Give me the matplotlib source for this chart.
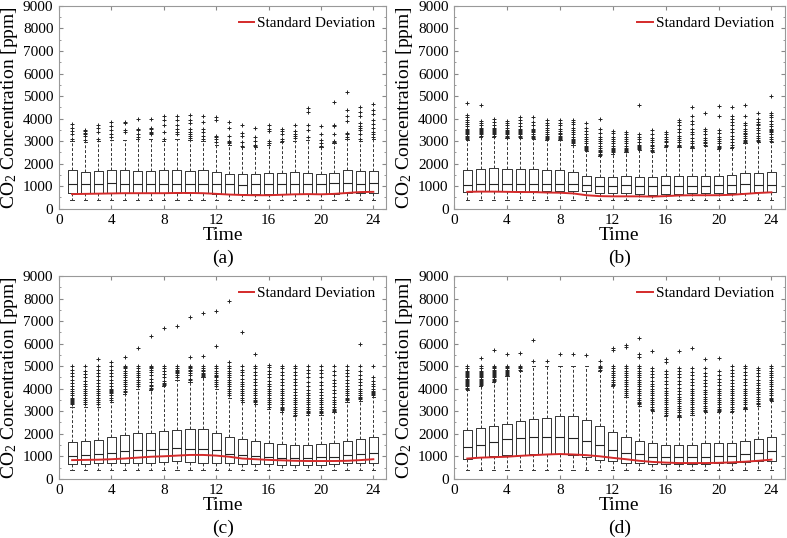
import numpy as np
import matplotlib.pyplot as plt

plt.rcParams['font.family'] = ['Liberation Serif', 'DejaVu Serif']
plt.rcParams['mathtext.default'] = 'regular'

hours = list(range(1, 25))
whis_lo = [400] * 24

# panel (a)
q1_a = [700, 700, 700, 700, 700, 690, 690, 700, 700, 690, 690, 660, 650, 640, 640, 650, 650, 660, 660, 650, 670, 700, 700, 720]
med_a = [1100, 1100, 1100, 1130, 1100, 1080, 1080, 1080, 1100, 1100, 1080, 1080, 1080, 1050, 1100, 1100, 1080, 1100, 1080, 1100, 1150, 1150, 1100, 1150]
q3_a = [1700, 1650, 1680, 1720, 1720, 1680, 1680, 1700, 1700, 1680, 1700, 1620, 1550, 1520, 1560, 1580, 1600, 1620, 1580, 1550, 1600, 1700, 1680, 1680]
hi_a = [3000, 2950, 3000, 3050, 3050, 3100, 3100, 3000, 3100, 3050, 3000, 2850, 2850, 2750, 2750, 2850, 2950, 3000, 3050, 2750, 2900, 3100, 3000, 3100]
sd_a = [650, 660, 670, 680, 690, 690, 690, 690, 700, 700, 690, 660, 630, 610, 600, 600, 620, 640, 650, 640, 660, 700, 740, 750]
fliers_a = [
    [3100, 3300, 3450, 3600, 3750],
    [3050, 3250, 3300, 3350, 3450, 3500],
    [3100, 3400, 3600, 3700],
    [3200, 3300, 3500, 3650, 3850],
    [3400, 3500, 3800, 3850],
    [3200, 3300, 3500, 3550, 4000],
    [3300, 3350, 3400, 3550, 3600, 4000],
    [3100, 3400, 3700, 3950, 4100],
    [3300, 3400, 3550, 3700, 3950, 4100],
    [3150, 3250, 3300, 3400, 3550, 3800, 3950, 4150],
    [3100, 3250, 3400, 3550, 3850, 4100],
    [2950, 3100, 3200, 3250, 3950, 4050],
    [2900, 2950, 3000, 3250, 3600, 3850],
    [2800, 2950, 3250, 3350, 3700],
    [2800, 2850, 3000, 3200, 3600],
    [2900, 3000, 3450, 3550, 3700],
    [3000, 3100, 3300, 3450, 3550],
    [3150, 3250, 3300, 3450, 3700],
    [3200, 3500, 3700, 4300, 4450],
    [2800, 2900, 3050, 3300, 3650],
    [2950, 3000, 3300, 3650, 3700, 4750],
    [3200, 3300, 3350, 3900, 4100, 4400, 5200],
    [3100, 3300, 3500, 3600, 3650, 3800, 4100, 4300, 4500],
    [3200, 3300, 3400, 3600, 3750, 3950, 4200, 4400, 4650],
]

# panel (b)
q1_b = [750, 780, 800, 800, 800, 800, 800, 800, 800, 780, 720, 700, 700, 650, 620, 650, 650, 680, 680, 700, 700, 720, 750, 750]
med_b = [1050, 1080, 1100, 1100, 1100, 1080, 1080, 1080, 1080, 1050, 1000, 1000, 1050, 1000, 1000, 1050, 1000, 1000, 1000, 1050, 1050, 1080, 1050, 1050]
q3_b = [1700, 1750, 1800, 1750, 1750, 1750, 1700, 1700, 1650, 1450, 1400, 1400, 1450, 1400, 1400, 1450, 1450, 1450, 1450, 1450, 1500, 1600, 1600, 1650]
hi_b = [3050, 3200, 3200, 3150, 3150, 3100, 3050, 3050, 2850, 2550, 2350, 2450, 2500, 2600, 2500, 2750, 2750, 2700, 2800, 2650, 2700, 2900, 2950, 2950]
sd_b = [750, 760, 760, 750, 740, 740, 720, 710, 680, 600, 560, 550, 550, 550, 540, 560, 590, 600, 600, 600, 620, 660, 700, 730]
fliers_b = [
    [3100, 3150, 3200, 3250, 3300, 3350, 3400, 3450, 3500, 3550, 3650, 3750, 3850, 3950, 4050, 4150, 4700],
    [3250, 3300, 3350, 3400, 3450, 3500, 3550, 3600, 3700, 3800, 3900, 4600],
    [3250, 3300, 3350, 3400, 3450, 3500, 3550, 3600, 3700, 3850, 4000],
    [3200, 3250, 3300, 3350, 3400, 3450, 3500, 3600, 3700, 3800, 3900],
    [3200, 3250, 3300, 3350, 3400, 3450, 3500, 3550, 3650, 3800, 3950, 4050],
    [3150, 3200, 3250, 3300, 3400, 3450, 3500, 3550, 3700, 3850, 4050],
    [3100, 3150, 3200, 3250, 3300, 3400, 3500, 3600, 3700, 3800, 3950],
    [3100, 3150, 3200, 3250, 3300, 3350, 3450, 3550, 3700, 3800, 3950],
    [2900, 2950, 3000, 3050, 3100, 3200, 3300, 3400, 3500, 3600, 3750, 3850, 3950],
    [2600, 2650, 2700, 2750, 2800, 2900, 3000, 3100, 3200, 3300, 3450, 3600, 3800],
    [2400, 2450, 2500, 2550, 2600, 2700, 2800, 2900, 3000, 3100, 3200, 3350, 3550, 4000],
    [2500, 2550, 2600, 2650, 2700, 2800, 2900, 3000, 3100, 3200, 3350, 3450],
    [2550, 2600, 2650, 2700, 2800, 2900, 3000, 3100, 3200, 3300, 3400],
    [2650, 2700, 2750, 2800, 2850, 2950, 3100, 3200, 3300, 4600],
    [2550, 2600, 2700, 2800, 2850, 2950, 3050, 3150, 3300, 3500],
    [2800, 2850, 2950, 3000, 3100, 3200, 3300, 3400],
    [2800, 2850, 2950, 3050, 3150, 3250, 3400, 3550, 3700, 3850, 3950],
    [2750, 2800, 2900, 3000, 3150, 3300, 3400, 3550, 3750, 3900, 4100, 4500],
    [2850, 2900, 2950, 3050, 3150, 3300, 3450, 3550, 4250],
    [2700, 2750, 2800, 2900, 3000, 3100, 3200, 3350, 3500, 4100, 4550],
    [2750, 2850, 2950, 3100, 3250, 3400, 3550, 3700, 3850, 4000, 4100, 4500],
    [2950, 3000, 3050, 3150, 3250, 3300, 3350, 3450, 3550, 3700, 3800, 4100, 4600],
    [3000, 3050, 3150, 3250, 3350, 3500, 3600, 3700, 3750, 3850, 4000, 4250],
    [3000, 3100, 3200, 3300, 3400, 3450, 3500, 3550, 3650, 3750, 3900, 4050, 4150, 4250, 5000],
]

# panel (c)
q1_c = [650, 650, 680, 700, 720, 720, 720, 750, 780, 750, 720, 680, 680, 650, 650, 650, 620, 620, 620, 620, 650, 680, 700, 720]
med_c = [1000, 1050, 1080, 1150, 1220, 1270, 1300, 1320, 1370, 1330, 1320, 1280, 1100, 1050, 1000, 950, 930, 920, 920, 950, 950, 1050, 1080, 1150]
q3_c = [1650, 1680, 1720, 1850, 1950, 2020, 2050, 2100, 2150, 2200, 2200, 2050, 1850, 1780, 1680, 1600, 1550, 1500, 1500, 1550, 1600, 1700, 1750, 1850]
hi_c = [3200, 3200, 3200, 3400, 3750, 4000, 3950, 4100, 4400, 4300, 4500, 4000, 3600, 3400, 3300, 3100, 2950, 2800, 2850, 2850, 2950, 3400, 3450, 3650]
sd_c = [830, 840, 850, 870, 900, 940, 980, 1000, 1030, 1060, 1060, 1030, 980, 900, 870, 840, 820, 800, 790, 790, 790, 800, 830, 870]
fliers_c = [
    [3300, 3350, 3400, 3450, 3500, 3550, 3600, 3700, 3800, 3900, 4000, 4100, 4250, 4400, 4550, 4700, 4850, 5000],
    [3300, 3400, 3500, 3600, 3700, 3800, 3900, 4000, 4100, 4200, 4350, 4500, 4650, 4800, 5000],
    [3300, 3400, 3500, 3600, 3700, 3800, 3900, 4000, 4100, 4250, 4400, 4550, 4700, 4850, 5000, 5300],
    [3500, 3600, 3700, 3800, 3850, 3900, 3950, 4000, 4100, 4250, 4400, 4550, 4700, 4850, 5000, 5200],
    [3850, 3900, 4000, 4100, 4200, 4300, 4400, 4500, 4600, 4700, 4800, 4900, 4950, 5000, 5400],
    [4100, 4200, 4300, 4400, 4500, 4600, 4700, 4800, 4900, 5000, 5800],
    [4000, 4050, 4100, 4150, 4300, 4450, 4600, 4750, 4850, 4900, 4950, 5000, 6350],
    [4150, 4200, 4250, 4350, 4500, 4650, 4800, 4900, 5000, 6700],
    [4500, 4600, 4700, 4750, 4800, 4850, 4900, 5000, 6800],
    [4400, 4450, 4600, 4700, 4800, 4850, 4900, 4950, 5000, 5400, 7200],
    [4550, 4600, 4650, 4700, 4800, 4850, 4900, 5000, 5450, 7350],
    [4100, 4200, 4300, 4400, 4500, 4550, 4600, 4700, 4800, 4900, 5000, 5900, 7450],
    [3700, 3800, 3900, 4000, 4100, 4200, 4300, 4400, 4500, 4600, 4700, 4800, 4900, 5000, 5200, 7900],
    [3500, 3600, 3700, 3800, 3900, 4000, 4100, 4200, 4300, 4450, 4600, 4750, 4850, 5000, 6500],
    [3400, 3450, 3500, 3600, 3700, 3800, 3900, 4000, 4150, 4300, 4450, 4600, 4750, 4900, 5000, 5550],
    [3200, 3300, 3400, 3500, 3600, 3700, 3800, 3900, 4000, 4100, 4200, 4350, 4500, 4650, 4800, 4950, 5050],
    [3050, 3100, 3150, 3200, 3300, 3400, 3500, 3600, 3700, 3800, 3900, 4000, 4150, 4300, 4450, 4600, 4750, 4900, 5000],
    [2850, 2900, 3000, 3100, 3200, 3300, 3400, 3500, 3600, 3700, 3850, 4000, 4150, 4300, 4450, 4600, 4750, 4900, 5000],
    [2900, 2950, 3000, 3100, 3200, 3300, 3400, 3500, 3600, 3700, 3800, 3950, 4100, 4300, 4500, 4700, 4850, 5000],
    [2900, 2950, 3000, 3100, 3200, 3300, 3400, 3500, 3600, 3700, 3850, 4000, 4150, 4300, 4500, 4700, 4850, 5000],
    [3000, 3050, 3100, 3200, 3300, 3400, 3500, 3650, 3800, 3950, 4100, 4250, 4400, 4600, 4800, 5000],
    [3500, 3550, 3600, 3700, 3800, 3900, 4000, 4100, 4250, 4400, 4550, 4700, 4850, 5000],
    [3550, 3600, 3650, 3700, 3800, 3900, 4000, 4150, 4300, 4450, 4600, 4800, 5000, 6000],
    [3700, 3750, 3800, 3850, 3900, 4000, 4100, 4200, 4350, 4500, 5000],
]

# panel (d)
q1_d = [900, 950, 1020, 1050, 1070, 1080, 1080, 1080, 1050, 970, 850, 780, 720, 680, 650, 650, 650, 650, 650, 680, 700, 750, 780, 800]
med_d = [1430, 1520, 1650, 1750, 1820, 1850, 1850, 1850, 1830, 1700, 1500, 1300, 1150, 1080, 980, 950, 950, 950, 980, 1000, 1030, 1080, 1150, 1250]
q3_d = [2150, 2250, 2350, 2450, 2580, 2650, 2720, 2770, 2770, 2620, 2350, 2080, 1870, 1700, 1600, 1500, 1480, 1520, 1580, 1580, 1600, 1700, 1780, 1870]
hi_d = [3950, 4100, 4300, 4550, 4800, 5000, 5000, 5000, 5000, 5000, 4800, 4100, 3650, 3250, 3000, 2800, 2750, 2850, 2950, 2950, 2950, 3100, 3250, 3450]
sd_d = [900, 940, 960, 980, 1020, 1050, 1080, 1100, 1080, 1050, 1000, 930, 870, 800, 750, 720, 700, 700, 700, 710, 730, 760, 800, 850]
fliers_d = [
    [4000, 4050, 4100, 4150, 4200, 4250, 4300, 4350, 4400, 4450, 4500, 4550, 4600, 4650, 4700, 4750, 4800, 4900, 5000],
    [4150, 4200, 4250, 4300, 4350, 4400, 4450, 4500, 4550, 4600, 4650, 4700, 4750, 4800, 4900, 5000, 5350],
    [4350, 4400, 4450, 4500, 4550, 4600, 4650, 4700, 4750, 4800, 4850, 4900, 4950, 5000, 5700],
    [4600, 4650, 4700, 4750, 4800, 4850, 4900, 4950, 5000, 5550],
    [4850, 4900, 4950, 5000, 5600],
    [5250, 6150],
    [5250],
    [5550],
    [5550],
    [5500],
    [4850, 4900, 4950, 5000, 5250],
    [4150, 4200, 4300, 4400, 4500, 4600, 4700, 4800, 4900, 5000, 5700, 5800],
    [3700, 3800, 3900, 4000, 4100, 4200, 4300, 4400, 4500, 4600, 4700, 4800, 4900, 5000, 5850, 5950],
    [3300, 3350, 3400, 3500, 3600, 3700, 3800, 3900, 4000, 4100, 4200, 4300, 4400, 4500, 4600, 4700, 4800, 4900, 5000, 5400, 5550, 6250],
    [3050, 3100, 3200, 3300, 3400, 3500, 3600, 3700, 3800, 3900, 4000, 4100, 4200, 4350, 4500, 4650, 4800, 4900, 5650],
    [2850, 2900, 3000, 3100, 3200, 3300, 3400, 3500, 3600, 3700, 3800, 3900, 4050, 4200, 4350, 4500, 4650, 4800, 5200, 5300],
    [2800, 2850, 2950, 3050, 3150, 3250, 3350, 3450, 3550, 3650, 3750, 3900, 4050, 4200, 4350, 4500, 4650, 4800, 4900, 5650],
    [2900, 3000, 3100, 3200, 3300, 3400, 3500, 3600, 3700, 3800, 3900, 4000, 4150, 4300, 4450, 4600, 4750, 4900, 5800],
    [3000, 3050, 3150, 3250, 3350, 3450, 3550, 3650, 3750, 3850, 3950, 4100, 4250, 4400, 4550, 4700, 4900, 5300],
    [3000, 3050, 3100, 3200, 3300, 3400, 3500, 3600, 3700, 3800, 3900, 4000, 4150, 4300, 4450, 4600, 4800, 5350],
    [3000, 3100, 3200, 3300, 3400, 3500, 3600, 3700, 3800, 3900, 4000, 4100, 4250, 4400, 4550, 4700, 4850, 5000],
    [3150, 3200, 3300, 3400, 3500, 3600, 3700, 3800, 3900, 4000, 4150, 4300, 4450, 4600, 4750, 4900, 5000],
    [3300, 3350, 3450, 3550, 3650, 3750, 3850, 3950, 4050, 4150, 4250, 4400, 4550, 4700, 4850, 4900],
    [3500, 3550, 3600, 3700, 3800, 3900, 4000, 4100, 4200, 4300, 4400, 4500, 4600, 4700, 4800, 4900, 5000],
]

panels = [
    ('(a)', q1_a, med_a, q3_a, hi_a, sd_a, fliers_a),
    ('(b)', q1_b, med_b, q3_b, hi_b, sd_b, fliers_b),
    ('(c)', q1_c, med_c, q3_c, hi_c, sd_c, fliers_c),
    ('(d)', q1_d, med_d, q3_d, hi_d, sd_d, fliers_d),
]
rects = [
    [0.075, 0.612, 0.416, 0.377],
    [0.577, 0.612, 0.420, 0.377],
    [0.075, 0.110, 0.416, 0.377],
    [0.577, 0.110, 0.420, 0.377],
]

fig = plt.figure(figsize=(7.87, 5.38), dpi=100)

for (tag, q1, med, q3, hi, sd, fl), rect in zip(panels, rects):
    ax = fig.add_axes(rect)
    stats = []
    for i in range(24):
        stats.append({'q1': q1[i], 'med': med[i], 'q3': q3[i],
                      'whislo': whis_lo[i], 'whishi': hi[i], 'fliers': fl[i]})
    ax.bxp(stats, positions=hours, widths=0.7, capwidths=0.25,
           boxprops=dict(color='#333333', lw=0.7),
           medianprops=dict(color='#222222', lw=0.8),
           whiskerprops=dict(color='#333333', lw=0.7, ls=(0, (3, 2))),
           capprops=dict(color='#333333', lw=0.7),
           flierprops=dict(marker='+', markersize=3.5, markeredgecolor='#222222',
                           markeredgewidth=0.7, ls='none'))
    ax.plot(hours, sd, color='#d42a2a', lw=1.4, label='Standard Deviation')
    ax.set_xlim(0, 25)
    ax.set_ylim(0, 9000)
    ax.set_xticks([0, 4, 8, 12, 16, 20, 24])
    ax.set_xticklabels(['0', '4', '8', '12', '16', '20', '24'])
    ax.set_yticks(range(0, 9001, 1000))
    ax.set_yticks(range(0, 9001, 500), minor=True)
    ax.tick_params(direction='in', top=True, right=True, labelsize=11, color='#888888', length=3, pad=4)
    ax.tick_params(which='minor', direction='in', right=True, length=1.5, color='#888888')
    for s in ax.spines.values():
        s.set_color('#999999')
        s.set_linewidth(0.8)
    ax.set_xlabel('Time', fontsize=14, labelpad=0)
    ax.set_ylabel('CO$_2$ Concentration [ppm]', fontsize=14, labelpad=2)
    ax.text(0.5, -0.245, tag, transform=ax.transAxes, ha='center', va='center', fontsize=14)
    ax.legend(loc='upper right', frameon=False, fontsize=11, handlelength=1.0,
              handletextpad=0.2, borderaxespad=0.3)

fig.savefig('out.png', dpi=100)
